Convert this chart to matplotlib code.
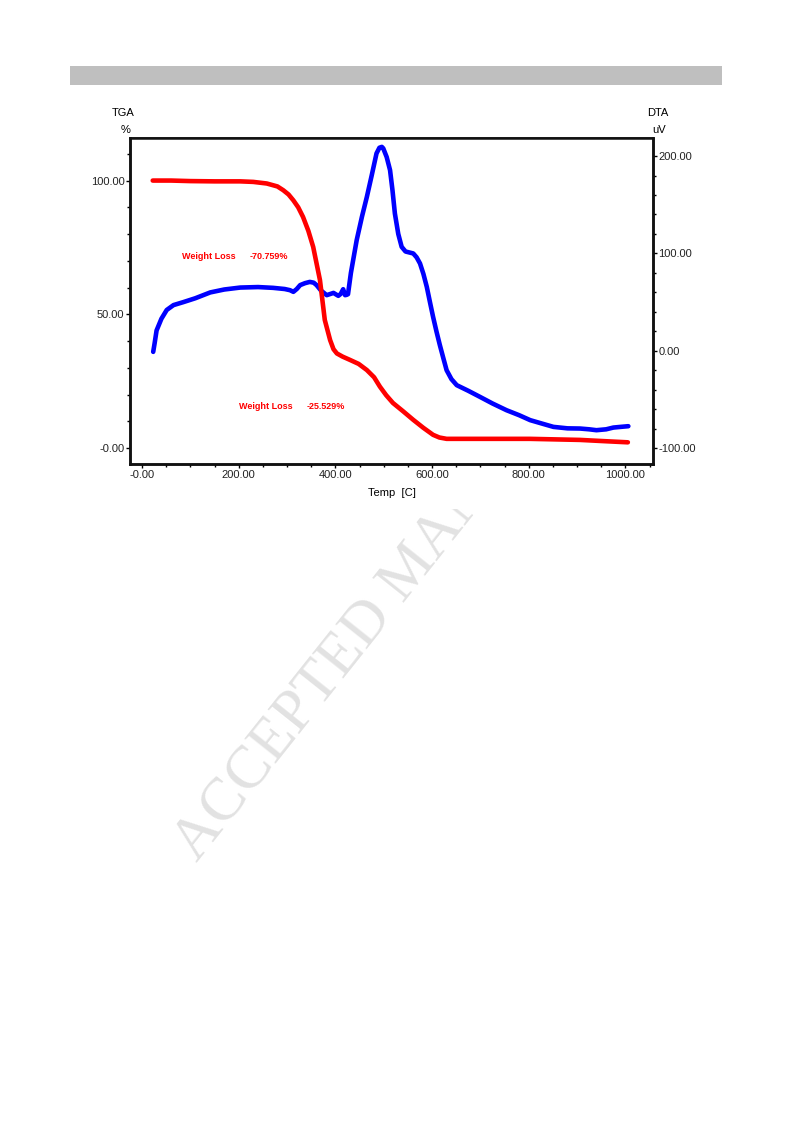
import matplotlib
matplotlib.use("Agg")
from matplotlib import pyplot as plt
from matplotlib.patches import Rectangle
from matplotlib.ticker import FixedLocator, FixedFormatter, MultipleLocator

plt.rcParams['font.family'] = ['Liberation Sans Narrow', 'Liberation Sans', 'DejaVu Sans']

# TGA curve (temperature C, weight %)
tga_temp = [22, 60, 100, 150, 203, 230, 258, 280, 292, 303, 313, 323, 333, 344, 354,
            368, 378, 389, 396, 403, 415, 430, 448, 465, 480, 492, 505, 519, 540,
            561, 582, 602, 615, 630, 700, 802, 906, 960, 1005]
tga_weight = [100.0, 100.0, 99.8, 99.7, 99.7, 99.5, 98.9, 97.8, 96.4, 94.8, 92.6, 90.0, 86.4,
              81.2, 75.2, 62.8, 47.9, 40.4, 37.0, 35.4, 34.2, 33.0, 31.5, 29.2, 26.5, 23.0,
              19.8, 16.9, 13.8, 10.6, 7.6, 5.0, 4.0, 3.5, 3.5, 3.5, 3.1, 2.6, 2.2]

# DTA curve (temperature C, signal uV)
dta_temp = [23, 26, 30, 40, 51, 65, 85, 110, 141, 170, 203, 240, 271, 295, 306, 313,
            320, 327, 337, 347, 355, 361, 370, 382, 390, 396, 401, 406, 411, 416, 418,
            420, 423, 426, 432, 444, 455, 465, 475, 485, 491, 496, 499, 506, 513, 518,
            523, 530, 537, 545, 553, 561, 568, 575, 582, 589, 596, 602, 609, 616, 623,
            630, 640, 651, 675, 699, 725, 754, 780, 803, 830, 851, 880, 906, 925, 940,
            960, 975, 990, 1006]
dta_signal = [-1, 8, 21, 33, 42, 47, 50, 54, 60, 63, 65, 65.5, 64.7, 63.5, 62.3, 60.6,
              63.5, 67.5, 69.5, 70.8, 70.0, 67.5, 62.0, 57.2, 58.5, 59.5, 58.0, 56.5, 58.5,
              63.3, 60.0, 57.2, 57.5, 58.2, 80, 113.7, 138, 158, 180, 202.7, 208.5, 209.4,
              207.8, 199, 185.5, 165, 141, 120, 106.8, 102, 101, 100, 96, 89.7, 79, 65.7,
              49, 35, 20, 6, -7, -19.8, -29, -35.2, -41, -47.2, -54, -60.9, -66, -71.1,
              -75, -78, -79.5, -79.7, -80.5, -81.4, -80.5, -78.7, -78, -77.3]

x_ticks = [0, 200, 400, 600, 800, 1000]
x_labels = ["-0.00", "200.00", "400.00", "600.00", "800.00", "1000.00"]
tga_ticks = [0, 50, 100]
tga_labels = ["-0.00", "50.00", "100.00"]
dta_ticks = [-100, 0, 100, 200]
dta_labels = ["-100.00", "0.00", "100.00", "200.00"]

annotations = [(83, 71.8, "Weight Loss"), (223, 71.8, "-70.759%"),
               (200, 15.5, "Weight Loss"), (341, 15.5, "-25.529%")]


def main():
    fig = plt.figure(figsize=(7.93, 11.23), dpi=100)
    W, H = 793.0, 1123.0

    # watermark behind the chart image
    fig.text(197 / W, 1 - 863 / H, "ACCEPTED MANUSCRIPT", family="Liberation Serif",
             fontsize=44, color="#e2e2e2", rotation=51.5, rotation_mode="anchor",
             ha="left", va="baseline", zorder=-3)
    fig.patches.append(Rectangle((70 / W, 1 - 509 / H), 627 / W, 415 / H,
                                 transform=fig.transFigure, facecolor="white",
                                 edgecolor="none", zorder=-2))
    fig.patches.append(Rectangle((70 / W, 1 - 85 / H), 652 / W, 19 / H,
                                 transform=fig.transFigure, facecolor="#bfbfbf",
                                 edgecolor="none", zorder=-2))

    ax = fig.add_axes([130 / W, 1 - 464 / H, 523 / W, 326 / H])
    ax2 = ax.twinx()
    ax.set_zorder(ax2.get_zorder() + 1)
    ax.patch.set_visible(False)
    ax2.patch.set_visible(False)

    ax2.plot(dta_temp, dta_signal, color="#0000ff", linewidth=3.3,
             solid_capstyle="round", solid_joinstyle="round")
    ax.plot(tga_temp, tga_weight, color="#ff0000", linewidth=3.3,
            solid_capstyle="round", solid_joinstyle="round")

    ax.set_xlim(-25, 1057)
    ax.set_ylim(-5.9, 115.9)
    ax2.set_ylim(-116.1, 218.5)

    ax.xaxis.set_major_locator(FixedLocator(x_ticks))
    ax.xaxis.set_major_formatter(FixedFormatter(x_labels))
    ax.xaxis.set_minor_locator(MultipleLocator(50))
    ax.yaxis.set_major_locator(FixedLocator(tga_ticks))
    ax.yaxis.set_major_formatter(FixedFormatter(tga_labels))
    ax.yaxis.set_minor_locator(MultipleLocator(10))
    ax2.yaxis.set_major_locator(FixedLocator(dta_ticks))
    ax2.yaxis.set_major_formatter(FixedFormatter(dta_labels))
    ax2.yaxis.set_minor_locator(MultipleLocator(20))

    for a in (ax, ax2):
        a.tick_params(which="major", length=3, width=1, labelsize=8,
                      labelcolor="#222222", pad=1)
        a.tick_params(which="minor", length=2, width=1)
        for s in a.spines.values():
            s.set_linewidth(1.8)
            s.set_color("#111111")
    ax.spines["top"].set_linewidth(1.2)

    for x, y, t in annotations:
        ax.text(x, y, t, color="#ff0000", fontsize=6.5, fontweight="bold",
                ha="left", va="center")

    fig.text(123.5 / W, 1 - 113 / H, "TGA", ha="center", va="center", fontsize=8)
    fig.text(126 / W, 1 - 130 / H, "%", ha="center", va="center", fontsize=8)
    fig.text(658 / W, 1 - 113 / H, "DTA", ha="center", va="center", fontsize=8)
    fig.text(659 / W, 1 - 130 / H, "uV", ha="center", va="center", fontsize=8)
    fig.text(392 / W, 1 - 493 / H, "Temp  [C]", ha="center", va="center", fontsize=8)

    plt.savefig("out.png", dpi=100)
    plt.close()


if __name__ == "__main__":
    main()
